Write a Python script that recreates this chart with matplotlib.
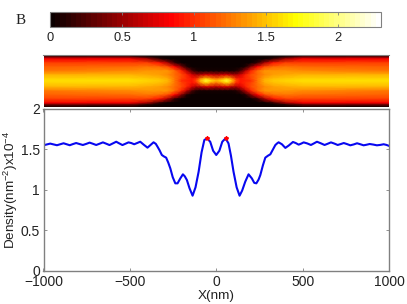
import numpy as np
import matplotlib
matplotlib.use('Agg')
import matplotlib.pyplot as plt

plt.rcParams['font.family'] = ['Liberation Sans', 'DejaVu Sans']
plt.rcParams['mathtext.default'] = 'regular'

# density profile
x_nm = [-1000, -982, -961, -942, -922, -903, -884, -866, -848, -830, -811, -792, -772, -752, -733, -714,
        -695, -675, -656, -637, -618, -598, -579, -561, -543, -525, -508, -492, -475, -458, -440, -420,
        -398, -380, -363, -350, -340, -328, -315, -303, -290, -278, -266, -252, -237, -224, -208, -193,
        -182, -170, -155, -137, -120, -102, -85, -69, -54, -35, -18, 0, 18, 35, 54, 71, 85, 100, 118, 135,
        150, 168, 187, 206, 220, 232, 245, 255, 270, 284, 300, 313, 328, 342, 352, 361, 380, 400, 420,
        444, 460, 477, 492, 506, 527, 548, 565, 583, 605, 627, 645, 664, 684, 703, 720, 738, 757, 776,
        796, 815, 834, 853, 870, 888, 909, 930, 950, 969, 985, 1000]
density = [1.547, 1.557, 1.568, 1.558, 1.548, 1.560, 1.572, 1.560, 1.548, 1.562, 1.575, 1.563, 1.551, 1.565, 1.580, 1.566,
           1.551, 1.567, 1.583, 1.567, 1.550, 1.571, 1.591, 1.570, 1.550, 1.567, 1.583, 1.575, 1.560, 1.575, 1.591, 1.555,
           1.518, 1.552, 1.584, 1.565, 1.530, 1.485, 1.428, 1.410, 1.395, 1.335, 1.264, 1.155, 1.079, 1.079, 1.140, 1.190,
           1.165, 1.120, 1.020, 0.927, 1.030, 1.222, 1.460, 1.612, 1.633, 1.591, 1.480, 1.428, 1.480, 1.591, 1.633, 1.570,
           1.420, 1.222, 1.030, 0.927, 0.990, 1.100, 1.190, 1.140, 1.085, 1.079, 1.125, 1.180, 1.300, 1.395, 1.420, 1.436,
           1.495, 1.550, 1.570, 1.584, 1.560, 1.515, 1.545, 1.588, 1.575, 1.555, 1.568, 1.583, 1.570, 1.551, 1.570, 1.591,
           1.572, 1.551, 1.566, 1.583, 1.568, 1.551, 1.562, 1.575, 1.562, 1.547, 1.558, 1.572, 1.560, 1.547, 1.554, 1.563,
           1.556, 1.547, 1.552, 1.560, 1.552, 1.540]
peak_x = [-54, 54]
peak_y = [1.64, 1.64]

# heat map table: columns along x, rows from the edge to the centre of the strip (pixels)
map_x = [-1000, -500, -400, -330, -280, -240, -200, -170, -140, -115, -90, -60, -30, 0]
map_row = [0, 2, 4, 8, 12, 16, 20, 24, 26]
map_half = [
    [0, 0.35, 0.80, 1.05, 1.15, 1.25, 1.45, 1.58, 1.60],
    [0, 0.30, 0.80, 1.05, 1.20, 1.30, 1.45, 1.58, 1.60],
    [0, 0.10, 0.55, 1.05, 1.25, 1.35, 1.42, 1.54, 1.56],
    [0, 0, 0.15, 0.90, 1.20, 1.35, 1.38, 1.50, 1.52],
    [0, 0, 0, 0.55, 1.10, 1.35, 1.32, 1.43, 1.45],
    [0, 0, 0, 0.15, 0.85, 1.20, 1.20, 1.25, 1.25],
    [0, 0, 0, 0, 0.40, 0.95, 1.10, 1.05, 1.00],
    [0, 0, 0, 0, 0.10, 0.60, 0.95, 0.98, 0.95],
    [0, 0, 0, 0, 0, 0.25, 0.70, 0.90, 0.90],
    [0, 0, 0, 0, 0, 0.10, 0.55, 1.00, 1.10],
    [0, 0, 0, 0, 0, 0.05, 0.60, 1.30, 1.50],
    [0, 0, 0, 0, 0, 0.05, 0.70, 1.55, 1.80],
    [0, 0, 0, 0, 0, 0.05, 0.65, 1.35, 1.60],
    [0, 0, 0, 0, 0, 0.05, 0.60, 1.25, 1.45],
]

W, H = 407.0, 304.0


def box(x0, y0, x1, y1):
    return [x0 / W, 1 - y1 / H, (x1 - x0) / W, (y1 - y0) / H]


half = np.array(map_half)
full = np.hstack([half, half[:, -2::-1]])
full = np.vstack([full, full[-2::-1]])
xx = np.array(map_x + [-v for v in map_x[-2::-1]])
yy = np.array(map_row + [52 - v for v in map_row[-2::-1]])

fig = plt.figure(figsize=(W / 100, H / 100), dpi=100)
gray = '#808080'
txt = '#222222'

# strip
ax_map = fig.add_axes(box(43.5, 55, 389, 107))
cmap = plt.get_cmap('hot', 64)
mesh = ax_map.pcolormesh(xx, yy, full.T, cmap=cmap, vmin=0, vmax=2.3, shading='gouraud')
ax_map.set_xlim(-1000, 1000)
ax_map.set_ylim(52, 0)
ax_map.set_xticks([])
ax_map.set_yticks([])
for s in ax_map.spines.values():
    s.set_visible(False)
ax_map.spines['top'].set_visible(True)
ax_map.spines['top'].set_color(gray)

# colour bar
ax_cb = fig.add_axes(box(50, 12, 381, 27))
cb = fig.colorbar(plt.cm.ScalarMappable(norm=plt.Normalize(0, 2.3), cmap=cmap), cax=ax_cb, orientation='horizontal')
cb.set_ticks([0, 0.5, 1, 1.5, 2])
cb.set_ticklabels(['0', '0.5', '1', '1.5', '2'])
ax_cb.tick_params(axis='x', direction='in', top=True, bottom=True, length=2.5, width=0.6, color=gray,
                  labelsize=9.3, labelcolor=txt, pad=3.5)
cb.outline.set_edgecolor(gray)
cb.outline.set_linewidth(0.8)

fig.text(21 / W, 1 - 21 / H, 'B', family=['Liberation Serif'], fontsize=11, color=txt, ha='center', va='center')

# density curve
ax = fig.add_axes(box(43.5, 108.5, 389, 271))
ax.plot(x_nm, density, color='#0808f0', linewidth=1.5)
ax.plot(peak_x, peak_y, linestyle='none', marker='*', color='red', markersize=3)
ax.set_xlim(-1000, 1000)
ax.set_ylim(0, 2)
ax.set_xticks([-1000, -500, 0, 500, 1000])
ax.set_yticks([0, 0.5, 1, 1.5, 2])
ax.set_yticklabels(['0', '0.5', '1', '1.5', '2'])
ax.tick_params(direction='in', top=True, right=True, length=2.5, width=0.6, color=gray,
               labelsize=10, labelcolor=txt, pad=2.5)
ax.tick_params(axis='x', pad=3)
for s in ax.spines.values():
    s.set_color(gray)
    s.set_linewidth(1.0)
ax.set_xlabel('X(nm)', fontsize=9.7, color=txt)
ax.xaxis.set_label_coords(0.5, -(296.5 - 271) / 162.5, transform=ax.transAxes)
ax.xaxis.label.set_va('center')
ax.set_ylabel('Density(nm$^{-2}$)x10$^{-4}$', fontsize=9.7, color=txt)
ax.yaxis.set_label_coords(-(43.5 - 10.5) / 345.5, 0.5, transform=ax.transAxes)
ax.yaxis.label.set_va('center')

plt.savefig('out.png', dpi=100)
